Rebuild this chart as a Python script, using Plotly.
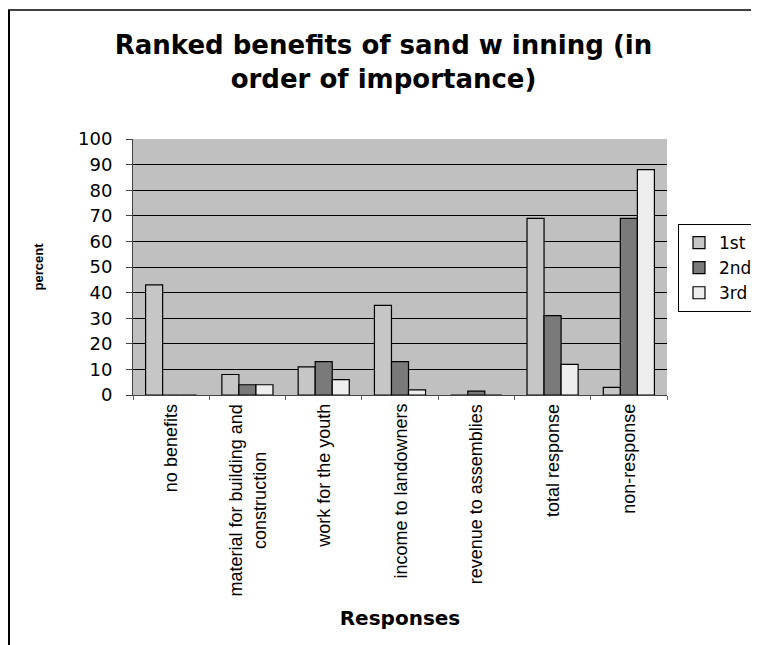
import plotly.graph_objects as go

categories = ["no benefits", "material for building and<br>construction", "work for the youth",
              "income to landowners", "revenue to assemblies", "total response", "non-response"]
series_names = ["1st", "2nd", "3rd"]
first = [43, 8, 11, 35, 0, 69, 3]
second = [0, 4, 13, 13, 1.5, 31, 69]
third = [0, 4, 6, 2, 0, 12, 88]
y_ticks = list(range(0, 101, 10))

colors = ["#c6c6c6", "#7a7a7a", "#eeeeee"]
font_family = "Liberation Sans, Arial, sans-serif"
wide_family = "DejaVu Sans, Verdana, sans-serif"

W, H = 751, 637
L, R, T, B = 125, 92, 131, 250
PW, PH = W - L - R, H - T - B

fig = go.Figure()
for name, vals, col in zip(series_names, [first, second, third], colors):
    fig.add_trace(go.Bar(x=categories, y=vals, name=name,
                         marker=dict(color=col, line=dict(color="black", width=1.2))))

fig.update_layout(
    width=W, height=H,
    paper_bgcolor="white", plot_bgcolor="#c0c0c0",
    margin=dict(l=L, r=R, t=T, b=B, autoexpand=False),
    barmode="group", bargap=0.33, bargroupgap=0,
    font=dict(family=font_family, color="black"),
    title=dict(text="<b>Ranked benefits of sand w inning (in<br>order of importance)</b>",
               x=0.5, xanchor="center", xref="container",
               y=1 - 46 / H, yanchor="top", yref="container",
               font=dict(size=26, family=wide_family)),
    legend=dict(x=1 + 11 / PW, xanchor="left", y=(T + PH - 260) / PH, yanchor="middle",
                bordercolor="black", borderwidth=1, bgcolor="white",
                font=dict(size=17, family=wide_family), tracegroupgap=0, itemwidth=30),
    showlegend=True,
)
fig.update_yaxes(range=[0, 100], tickvals=y_ticks, ticktext=[str(v) for v in y_ticks],
                 showgrid=True, gridcolor="black", gridwidth=1,
                 showline=True, linecolor="#444444", linewidth=1,
                 ticks="outside", ticklen=6, tickcolor="#444444",
                 ticklabelstandoff=10,
                 tickfont=dict(size=18, family=wide_family), zeroline=False,
                 title=dict(text="<b>percent</b>", font=dict(size=13), standoff=31))
fig.update_xaxes(showticklabels=False,
                 showline=True, linecolor="#444444", linewidth=1,
                 ticks="outside", tickson="boundaries", ticklen=4, tickcolor="#666666",
                 showgrid=False,
                 title=dict(text="<b>Responses</b>", font=dict(size=20, family=wide_family),
                            standoff=215))

for cat in categories:
    fig.add_annotation(x=cat, xref="x", y=0, yref="paper", yanchor="top", xanchor="center",
                       yshift=-7, text=cat, textangle=-90, align="center",
                       showarrow=False, font=dict(size=18, family=font_family))

# outer frame (top and left edges)
fig.add_shape(type="line", xref="paper", yref="paper",
              x0=-L / PW, x1=(W - L + 5) / PW,
              y0=(T + PH - 2) / PH, y1=(T + PH - 2) / PH,
              line=dict(color="black", width=1.5))
fig.add_shape(type="line", xref="paper", yref="paper",
              x0=(1 - L) / PW, x1=(1 - L) / PW,
              y0=(T + PH - 2) / PH, y1=-(B + 5) / PH,
              line=dict(color="black", width=2))

fig.write_html("out.html")
